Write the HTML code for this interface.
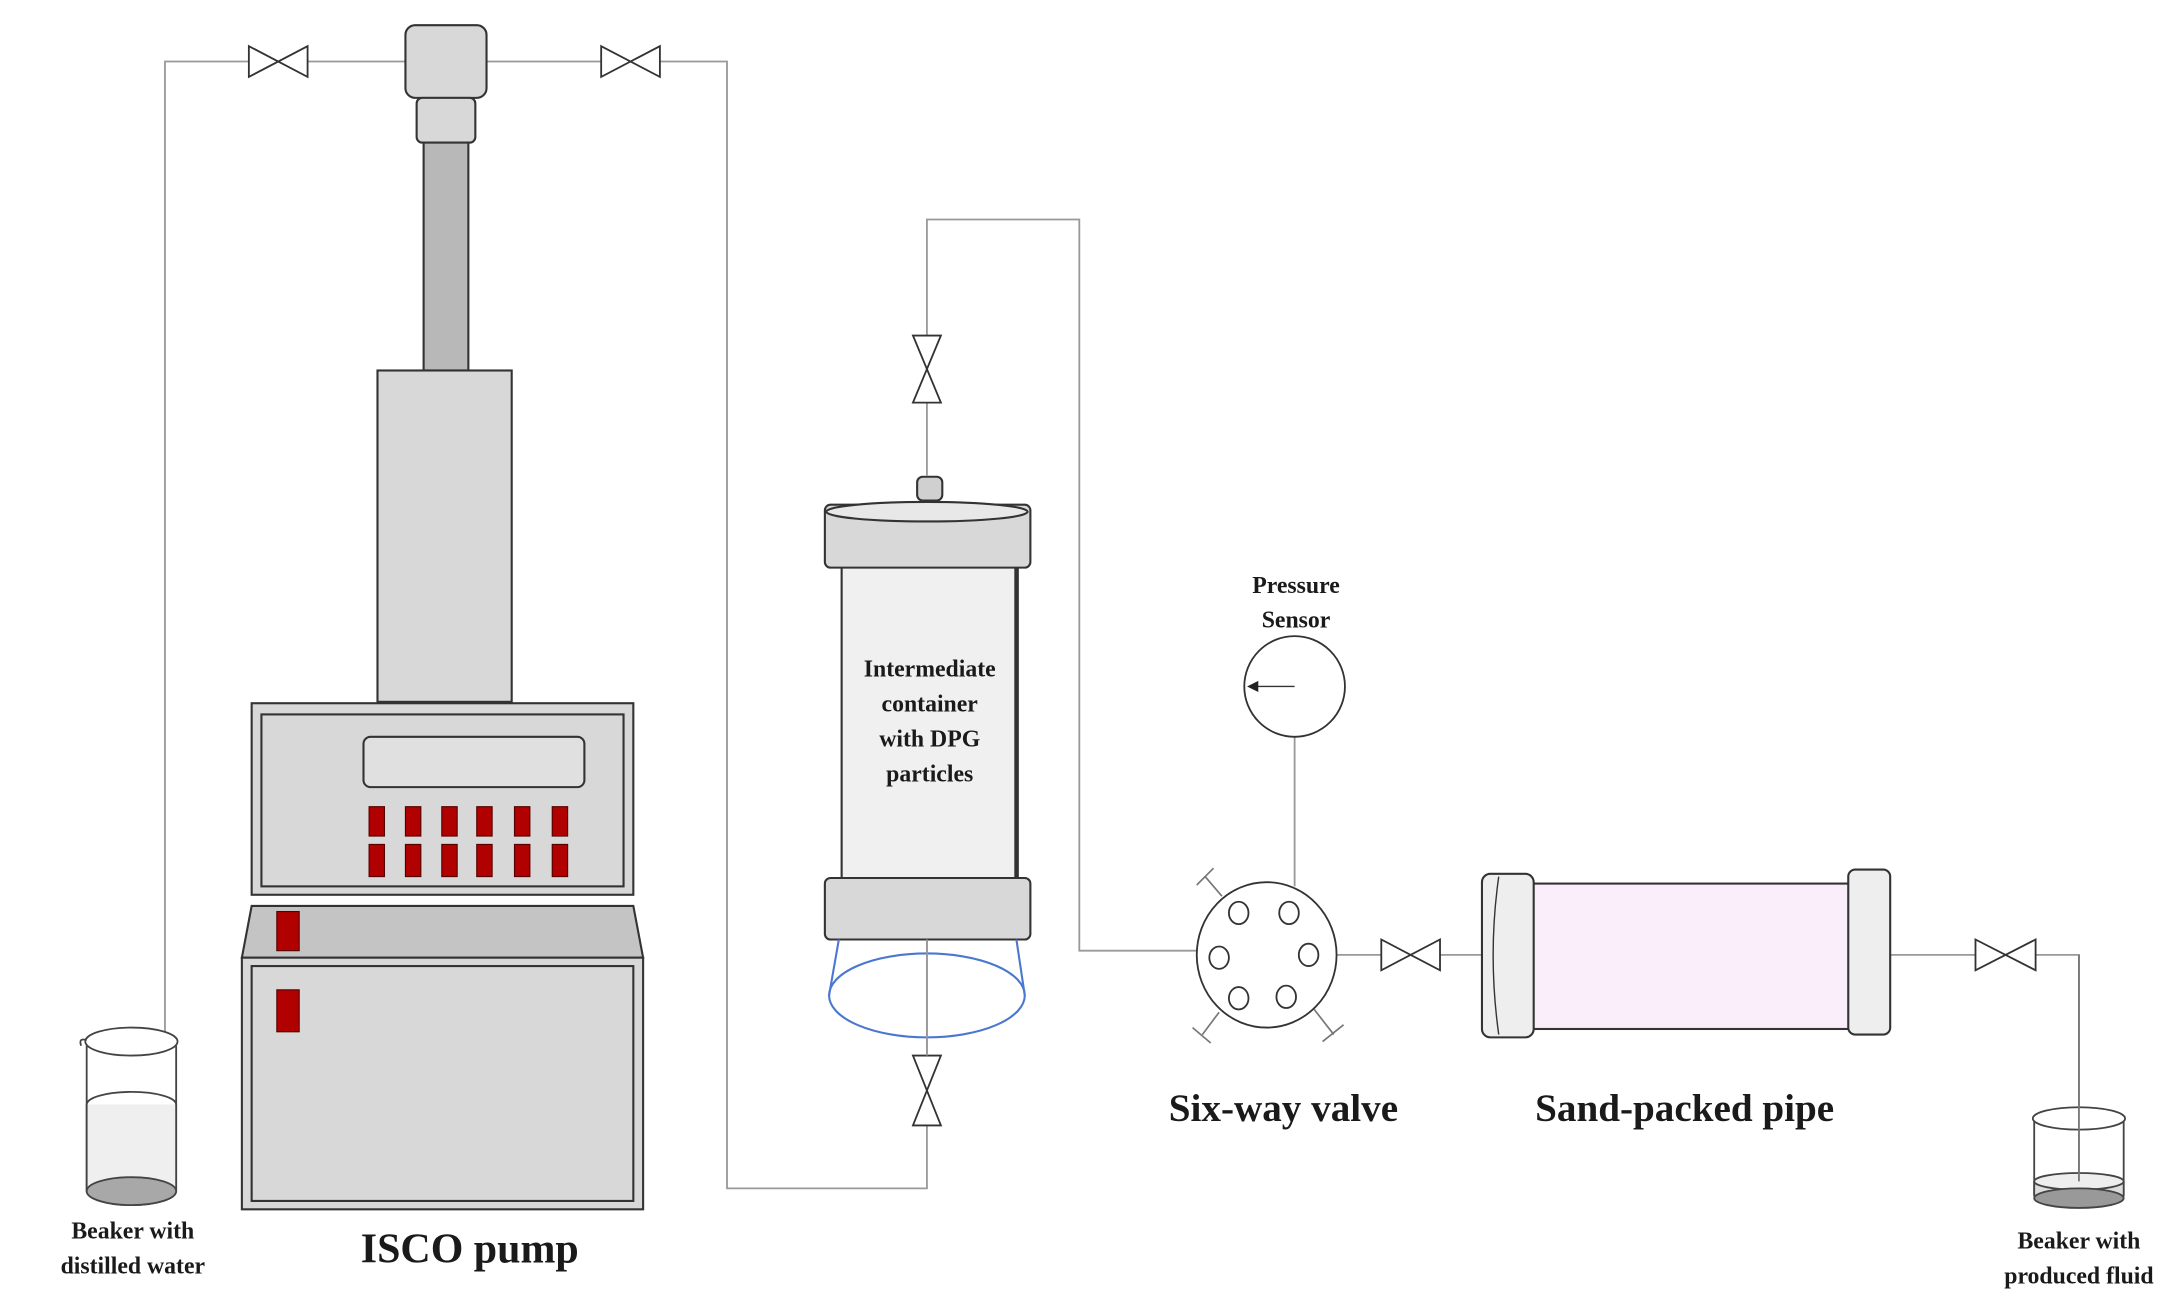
<!DOCTYPE html>
<html><head><meta charset="utf-8"><style>
html,body{margin:0;padding:0;background:#fff;}
svg{display:block;}
text{font-family:"Liberation Serif",serif;font-weight:bold;fill:#1a1a1a;text-anchor:middle;}
</style></head><body>
<svg width="2181" height="1303" viewBox="0 0 1560 932" preserveAspectRatio="none" xmlns="http://www.w3.org/2000/svg">
<g fill="none" stroke="#999" stroke-width="1.3">
<polyline points="118,740 118,44 290,44"/>
<polyline points="348,44 520,44 520,850 663,850 663,672"/>
<polyline points="663,340 663,157 772,157 772,680 858,680"/>
<line x1="926" y1="527" x2="926" y2="634"/>
<polyline points="956,683 1060,683"/>
<polyline points="1352,683 1487,683 1487,855"/>
</g>
<!-- valves -->
<g fill="#fff" stroke="#333" stroke-width="1.3">
<polygon points="178,33 220,55 220,33 178,55"/>
<polygon points="430,33 472,55 472,33 430,55"/>
<polygon points="653,240 673,288 653,288 673,240"/>
<polygon points="653,755 673,805 653,805 673,755"/>
<polygon points="988,672 1030,694 1030,672 988,694"/>
<polygon points="1413,672 1456,694 1456,672 1413,694"/>
</g>
<!-- pump -->
<g stroke="#333" stroke-width="1.5">
<rect x="290" y="18" width="58" height="52" rx="7" fill="#d8d8d8"/>
<rect x="298" y="70" width="42" height="32" rx="4" fill="#d8d8d8"/>
<rect x="303" y="102" width="32" height="163" fill="#b8b8b8"/>
<rect x="270" y="265" width="96" height="237" fill="#d8d8d8"/>
<rect x="180" y="503" width="273" height="137" fill="#d8d8d8"/>
<rect x="187" y="511" width="259" height="123" fill="#d8d8d8"/>
<rect x="260" y="527" width="158" height="36" rx="5" fill="#e0e0e0"/>
<polygon points="180,648 453,648 460,685 173,685" fill="#c4c4c4"/>
<rect x="173" y="685" width="287" height="180" fill="#d8d8d8"/>
<rect x="180" y="691" width="273" height="168" fill="#d8d8d8"/>
</g>
<g fill="#b00000" stroke="#500" stroke-width="0.8">
<rect x="264" y="577" width="11" height="21"/><rect x="290" y="577" width="11" height="21"/><rect x="316" y="577" width="11" height="21"/><rect x="341" y="577" width="11" height="21"/><rect x="368" y="577" width="11" height="21"/><rect x="395" y="577" width="11" height="21"/>
<rect x="264" y="604" width="11" height="23"/><rect x="290" y="604" width="11" height="23"/><rect x="316" y="604" width="11" height="23"/><rect x="341" y="604" width="11" height="23"/><rect x="368" y="604" width="11" height="23"/><rect x="395" y="604" width="11" height="23"/>
<rect x="198" y="652" width="16" height="28"/>
<rect x="198" y="708" width="16" height="30"/>
</g>
<!-- left beaker -->
<g stroke="#444" stroke-width="1.3" fill="none">
<path d="M62,748 L62,852 M126,748 L126,852"/>
<ellipse cx="94" cy="745" rx="33" ry="10" fill="#fff"/>
<path d="M58,748 Q56,742 62,744"/>
<ellipse cx="94" cy="790" rx="32" ry="9"/>
<path d="M62,790 L62,852 A32,10 0 0 0 126,852 L126,790" fill="#efefef"/>
<ellipse cx="94" cy="852" rx="32" ry="10" fill="#a8a8a8"/>
</g>
<!-- container -->
<g stroke="#333" stroke-width="1.5">
<rect x="656" y="341" width="18" height="17" rx="4" fill="#d0d0d0"/>
<rect x="602" y="400" width="126" height="232" fill="#f0f0f0"/>
<line x1="727" y1="405" x2="727" y2="628" stroke-width="3"/>
<rect x="590" y="361" width="147" height="45" rx="4" fill="#d8d8d8"/>
<ellipse cx="663" cy="366" rx="72" ry="7" fill="#e8e8e8"/>
<rect x="590" y="628" width="147" height="44" rx="4" fill="#d8d8d8"/>
</g>
<g fill="none" stroke="#4a78d0" stroke-width="1.5">
<ellipse cx="663" cy="712" rx="70" ry="30"/>
<line x1="600" y1="672" x2="593" y2="712"/><line x1="727" y1="672" x2="733" y2="712"/>
</g>
<line x1="663" y1="672" x2="663" y2="755" stroke="#999" stroke-width="1.3"/>
<text x="665" y="484" font-size="17">Intermediate</text>
<text x="665" y="509" font-size="17">container</text>
<text x="665" y="534" font-size="17">with DPG</text>
<text x="665" y="559" font-size="17">particles</text>
<!-- pressure sensor -->
<circle cx="926" cy="491" r="36" fill="#fff" stroke="#333" stroke-width="1.3"/>
<line x1="898" y1="491" x2="926" y2="491" stroke="#333" stroke-width="1"/>
<polygon points="892,491 900,487 900,495" fill="#222"/>
<text x="927" y="424" font-size="17">Pressure</text>
<text x="927" y="449" font-size="17">Sensor</text>
<!-- six-way valve -->
<g stroke="#333" stroke-width="1.3" fill="#fff">
<ellipse cx="906" cy="683" rx="50" ry="52"/>
<ellipse cx="886" cy="653" rx="7" ry="8"/><ellipse cx="922" cy="653" rx="7" ry="8"/>
<ellipse cx="872" cy="685" rx="7" ry="8"/><ellipse cx="936" cy="683" rx="7" ry="8"/>
<ellipse cx="886" cy="714" rx="7" ry="8"/><ellipse cx="920" cy="713" rx="7" ry="8"/>
</g>
<g stroke="#777" stroke-width="1.2">
<line x1="874" y1="641" x2="862" y2="627"/><line x1="856" y1="633" x2="868" y2="621"/>
<line x1="872" y1="724" x2="860" y2="740"/><line x1="853" y1="735" x2="866" y2="746"/>
<line x1="940" y1="722" x2="954" y2="740"/><line x1="946" y1="745" x2="961" y2="733"/>
</g>
<!-- sand pipe -->
<g stroke="#333" stroke-width="1.5">
<rect x="1095" y="632" width="230" height="104" fill="#fbeefb"/>
<rect x="1060" y="625" width="37" height="117" rx="6" fill="#eeeeee"/>
<path d="M1072,627 Q1064,683 1072,740" fill="none" stroke-width="1"/>
<rect x="1322" y="622" width="30" height="118" rx="5" fill="#eeeeee"/>
</g>
<!-- right beaker -->
<g stroke="#444" stroke-width="1.3" fill="none">
<path d="M1455,800 L1455,855 M1519,800 L1519,855"/>
<ellipse cx="1487" cy="800" rx="33" ry="8" fill="#fff"/>
<path d="M1455,845 L1455,855 A32,8 0 0 0 1519,855 L1519,845" fill="#ddd"/>
<ellipse cx="1487" cy="845" rx="32" ry="6" fill="#eee"/>
<ellipse cx="1487" cy="857" rx="32" ry="7" fill="#999"/>
<line x1="1487" y1="683" x2="1487" y2="845" stroke="#777"/>
</g>
<text x="95" y="886" font-size="17">Beaker with</text>
<text x="95" y="911" font-size="17">distilled water</text>
<text x="336" y="903" font-size="30">ISCO pump</text>
<text x="918" y="802" font-size="28">Six-way valve</text>
<text x="1205" y="802" font-size="28">Sand-packed pipe</text>
<text x="1487" y="893" font-size="17">Beaker with</text>
<text x="1487" y="918" font-size="17">produced fluid</text>
</svg>
</body></html>
